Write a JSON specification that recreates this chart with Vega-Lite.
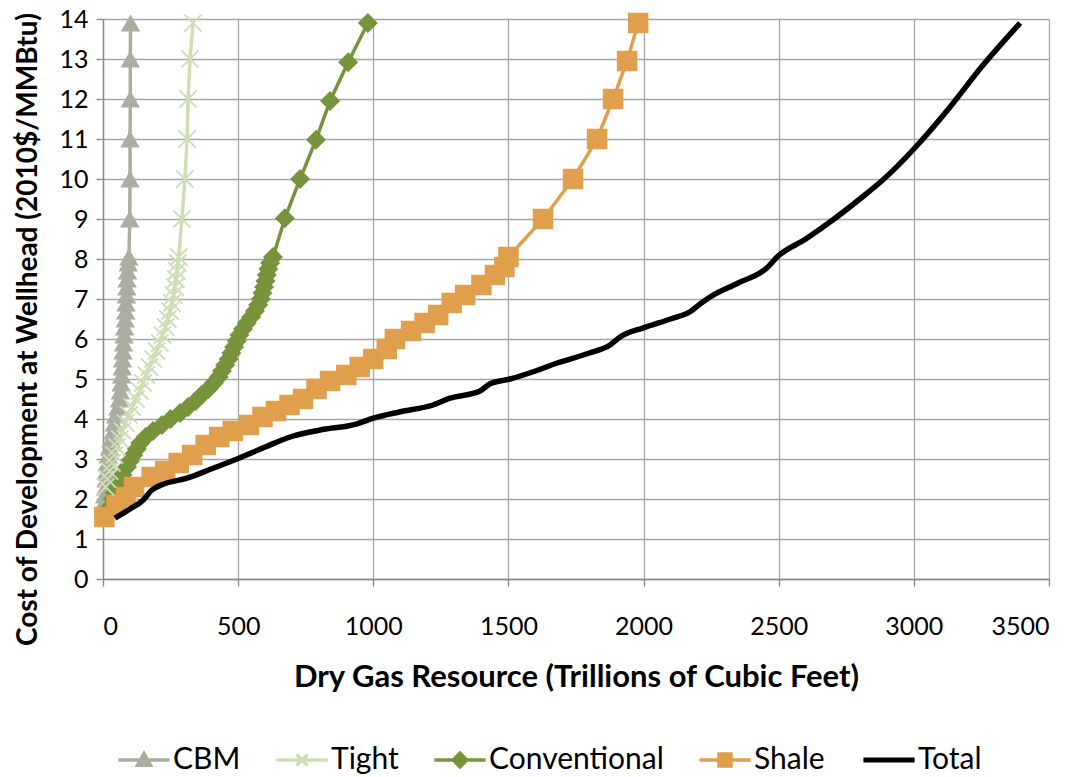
{
  "$schema": "https://vega.github.io/schema/vega-lite/v6.json",
  "width": 946,
  "height": 560,
  "autosize": {"type": "none"},
  "padding": {"left": 103, "top": 19, "right": 39, "bottom": 198},
  "background": "white",
  "config": {
    "font": "Lato",
    "view": {"stroke": null},
    "axis": {
      "labelFont": "Lato", "labelFontSize": 25, "labelColor": "#000000",
      "titleFont": "Lato", "titleFontWeight": "bold", "titleColor": "#000000",
      "gridColor": "#A6A6A6", "gridWidth": 1.3, "domainColor": "#888888", "domainWidth": 1.3,
      "tickColor": "#888888", "tickWidth": 1.3, "tickSize": 7
    }
  },
  "data": {"values": [
    {"s":"CBM","x":3,"y":1.9},{"s":"CBM","x":6,"y":2.1},{"s":"CBM","x":9,"y":2.3},{"s":"CBM","x":11,"y":2.5},{"s":"CBM","x":13,"y":2.7},{"s":"CBM","x":15,"y":2.9},{"s":"CBM","x":19,"y":3.1},{"s":"CBM","x":24,"y":3.3},{"s":"CBM","x":29,"y":3.5},{"s":"CBM","x":37,"y":3.7},{"s":"CBM","x":42,"y":3.9},{"s":"CBM","x":47,"y":4.1},{"s":"CBM","x":55,"y":4.3},{"s":"CBM","x":61,"y":4.5},{"s":"CBM","x":64,"y":4.7},{"s":"CBM","x":67,"y":4.9},{"s":"CBM","x":69,"y":5.1},{"s":"CBM","x":71,"y":5.3},{"s":"CBM","x":72,"y":5.5},{"s":"CBM","x":74,"y":5.7},{"s":"CBM","x":76,"y":5.9},{"s":"CBM","x":78,"y":6.1},{"s":"CBM","x":80,"y":6.3},{"s":"CBM","x":82,"y":6.5},{"s":"CBM","x":84,"y":6.7},{"s":"CBM","x":85,"y":6.9},{"s":"CBM","x":87,"y":7.1},{"s":"CBM","x":88,"y":7.3},{"s":"CBM","x":89,"y":7.5},{"s":"CBM","x":91,"y":7.7},{"s":"CBM","x":93,"y":7.9},{"s":"CBM","x":96,"y":8.05},{"s":"CBM","x":99,"y":9},{"s":"CBM","x":100,"y":10},{"s":"CBM","x":100,"y":11},{"s":"CBM","x":101,"y":12},{"s":"CBM","x":101,"y":13},{"s":"CBM","x":102,"y":13.9},
    {"s":"Tight","x":10,"y":2.3},{"s":"Tight","x":16,"y":2.5},{"s":"Tight","x":24,"y":2.7},{"s":"Tight","x":33,"y":2.9},{"s":"Tight","x":42,"y":3.1},{"s":"Tight","x":52,"y":3.3},{"s":"Tight","x":62,"y":3.5},{"s":"Tight","x":72,"y":3.7},{"s":"Tight","x":83,"y":3.9},{"s":"Tight","x":96,"y":4.1},{"s":"Tight","x":108,"y":4.3},{"s":"Tight","x":122,"y":4.5},{"s":"Tight","x":136,"y":4.7},{"s":"Tight","x":148,"y":4.9},{"s":"Tight","x":160,"y":5.1},{"s":"Tight","x":172,"y":5.3},{"s":"Tight","x":186,"y":5.5},{"s":"Tight","x":198,"y":5.7},{"s":"Tight","x":210,"y":5.9},{"s":"Tight","x":220,"y":6.1},{"s":"Tight","x":231,"y":6.3},{"s":"Tight","x":240,"y":6.5},{"s":"Tight","x":248,"y":6.7},{"s":"Tight","x":255,"y":6.9},{"s":"Tight","x":261,"y":7.1},{"s":"Tight","x":266,"y":7.3},{"s":"Tight","x":270,"y":7.5},{"s":"Tight","x":274,"y":7.7},{"s":"Tight","x":277,"y":7.9},{"s":"Tight","x":280,"y":8.05},{"s":"Tight","x":292,"y":9},{"s":"Tight","x":303,"y":10},{"s":"Tight","x":311,"y":11},{"s":"Tight","x":315,"y":12},{"s":"Tight","x":322,"y":13},{"s":"Tight","x":333,"y":13.9},
    {"s":"Conventional","x":15,"y":1.6},{"s":"Conventional","x":26,"y":1.8},{"s":"Conventional","x":36,"y":2.0},{"s":"Conventional","x":44,"y":2.15},{"s":"Conventional","x":52,"y":2.3},{"s":"Conventional","x":62,"y":2.45},{"s":"Conventional","x":72,"y":2.6},{"s":"Conventional","x":89,"y":2.8},{"s":"Conventional","x":100,"y":2.95},{"s":"Conventional","x":112,"y":3.1},{"s":"Conventional","x":125,"y":3.25},{"s":"Conventional","x":138,"y":3.4},{"s":"Conventional","x":158,"y":3.55},{"s":"Conventional","x":185,"y":3.7},{"s":"Conventional","x":218,"y":3.85},{"s":"Conventional","x":250,"y":4.0},{"s":"Conventional","x":285,"y":4.15},{"s":"Conventional","x":315,"y":4.3},{"s":"Conventional","x":343,"y":4.45},{"s":"Conventional","x":365,"y":4.6},{"s":"Conventional","x":390,"y":4.75},{"s":"Conventional","x":410,"y":4.9},{"s":"Conventional","x":428,"y":5.05},{"s":"Conventional","x":440,"y":5.2},{"s":"Conventional","x":452,"y":5.35},{"s":"Conventional","x":465,"y":5.5},{"s":"Conventional","x":475,"y":5.65},{"s":"Conventional","x":485,"y":5.8},{"s":"Conventional","x":495,"y":5.95},{"s":"Conventional","x":505,"y":6.1},{"s":"Conventional","x":518,"y":6.25},{"s":"Conventional","x":532,"y":6.4},{"s":"Conventional","x":548,"y":6.55},{"s":"Conventional","x":562,"y":6.7},{"s":"Conventional","x":574,"y":6.85},{"s":"Conventional","x":584,"y":7.0},{"s":"Conventional","x":590,"y":7.15},{"s":"Conventional","x":596,"y":7.3},{"s":"Conventional","x":601,"y":7.45},{"s":"Conventional","x":606,"y":7.6},{"s":"Conventional","x":612,"y":7.75},{"s":"Conventional","x":618,"y":7.9},{"s":"Conventional","x":629,"y":8.05},{"s":"Conventional","x":673,"y":9.02},{"s":"Conventional","x":729,"y":10.0},{"s":"Conventional","x":788,"y":10.98},{"s":"Conventional","x":840,"y":11.95},{"s":"Conventional","x":907,"y":12.92},{"s":"Conventional","x":980,"y":13.9},
    {"s":"Shale","x":5,"y":1.55},{"s":"Shale","x":50,"y":1.85},{"s":"Shale","x":85,"y":2.05},{"s":"Shale","x":115,"y":2.3},{"s":"Shale","x":180,"y":2.55},{"s":"Shale","x":230,"y":2.7},{"s":"Shale","x":280,"y":2.9},{"s":"Shale","x":330,"y":3.1},{"s":"Shale","x":380,"y":3.35},{"s":"Shale","x":430,"y":3.55},{"s":"Shale","x":480,"y":3.7},{"s":"Shale","x":540,"y":3.85},{"s":"Shale","x":590,"y":4.05},{"s":"Shale","x":640,"y":4.2},{"s":"Shale","x":690,"y":4.35},{"s":"Shale","x":740,"y":4.5},{"s":"Shale","x":790,"y":4.75},{"s":"Shale","x":840,"y":4.95},{"s":"Shale","x":900,"y":5.1},{"s":"Shale","x":950,"y":5.3},{"s":"Shale","x":1000,"y":5.5},{"s":"Shale","x":1050,"y":5.75},{"s":"Shale","x":1080,"y":6.0},{"s":"Shale","x":1140,"y":6.2},{"s":"Shale","x":1190,"y":6.4},{"s":"Shale","x":1240,"y":6.6},{"s":"Shale","x":1290,"y":6.9},{"s":"Shale","x":1340,"y":7.1},{"s":"Shale","x":1400,"y":7.35},{"s":"Shale","x":1450,"y":7.6},{"s":"Shale","x":1485,"y":7.8},{"s":"Shale","x":1500,"y":8.05},{"s":"Shale","x":1628,"y":9.0},{"s":"Shale","x":1739,"y":10.0},{"s":"Shale","x":1828,"y":11.0},{"s":"Shale","x":1887,"y":12.0},{"s":"Shale","x":1939,"y":12.95},{"s":"Shale","x":1980,"y":13.9},
    {"s":"Total","x":44,"y":1.52},{"s":"Total","x":100,"y":1.75},{"s":"Total","x":148,"y":1.97},{"s":"Total","x":180,"y":2.22},{"s":"Total","x":220,"y":2.36},{"s":"Total","x":311,"y":2.52},{"s":"Total","x":400,"y":2.75},{"s":"Total","x":496,"y":3.0},{"s":"Total","x":600,"y":3.3},{"s":"Total","x":692,"y":3.55},{"s":"Total","x":800,"y":3.72},{"s":"Total","x":940,"y":3.88},{"s":"Total","x":1000,"y":4.02},{"s":"Total","x":1100,"y":4.18},{"s":"Total","x":1221,"y":4.35},{"s":"Total","x":1284,"y":4.52},{"s":"Total","x":1395,"y":4.7},{"s":"Total","x":1432,"y":4.88},{"s":"Total","x":1506,"y":5.0},{"s":"Total","x":1600,"y":5.2},{"s":"Total","x":1680,"y":5.4},{"s":"Total","x":1800,"y":5.65},{"s":"Total","x":1876,"y":5.85},{"s":"Total","x":1913,"y":6.05},{"s":"Total","x":2000,"y":6.28},{"s":"Total","x":2100,"y":6.5},{"s":"Total","x":2172,"y":6.68},{"s":"Total","x":2210,"y":6.88},{"s":"Total","x":2246,"y":7.05},{"s":"Total","x":2350,"y":7.4},{"s":"Total","x":2457,"y":7.78},{"s":"Total","x":2494,"y":8.05},{"s":"Total","x":2600,"y":8.5},{"s":"Total","x":2701,"y":8.98},{"s":"Total","x":2800,"y":9.5},{"s":"Total","x":2886,"y":9.98},{"s":"Total","x":3000,"y":10.75},{"s":"Total","x":3134,"y":11.8},{"s":"Total","x":3250,"y":12.8},{"s":"Total","x":3393,"y":13.9}
  ]},
  "encoding": {
    "x": {"field": "x", "type": "quantitative",
      "scale": {"domain": [0, 3500], "nice": false, "zero": false},
      "axis": {"values": [0,500,1000,1500,2000,2500,3000,3500], "format": "d", "title": "Dry Gas Resource (Trillions of Cubic Feet)", "titleFontSize": 31, "labelPadding": 28, "titleX": 473, "titleY": 98, "titleBaseline": "middle", "titleAnchor": null}},
    "y": {"field": "y", "type": "quantitative",
      "scale": {"domain": [0, 14], "nice": false, "zero": false},
      "axis": {"values": [0,1,2,3,4,5,6,7,8,9,10,11,12,13,14], "title": "Cost of Development at Wellhead (2010$/MMBtu)", "titleFontSize": 28, "labelPadding": 8, "titleX": -75, "titleY": 310, "titleBaseline": "middle", "titleAngle": -90}},
    "color": {"field": "s", "type": "nominal",
      "scale": {"domain": ["CBM","Tight","Conventional","Shale","Total"], "range": ["#ABAE9F","#CFDDB5","#77933C","#E09F4D","#000000"]},
      "legend": {
        "orient": "none", "direction": "horizontal", "legendX": 26, "legendY": 726, "title": null,
        "labelFont": "Lato", "labelFontSize": 30, "labelColor": "#000000", "labelLimit": 400,
        "symbolSize": 256, "labelOffset": 14, "columnPadding": 28,
        "encode": {"symbols": {"update": {
          "shape": {"signal": "datum.value==='CBM' ? 'M-3.2,0L3.2,0M0,-0.8L0.8,0.65L-0.8,0.65Z' : datum.value==='Tight' ? 'M-3.2,0L3.2,0M-0.7,-0.7L0.7,0.7M-0.7,0.7L0.7,-0.7' : datum.value==='Conventional' ? 'M-3.2,0L3.2,0M0,-0.85L0.85,0L0,0.85L-0.85,0Z' : datum.value==='Shale' ? 'M-3.2,0L3.2,0M-0.75,-0.75L0.75,-0.75L0.75,0.75L-0.75,0.75Z' : 'M-3.2,0L3.2,0'"},
          "fill": {"signal": "datum.value==='Tight'||datum.value==='Total' ? 'transparent' : scale('color', datum.value)"},
          "stroke": {"signal": "scale('color', datum.value)"},
          "strokeWidth": {"signal": "datum.value==='Total' ? 5 : 3.5"},
          "opacity": {"value": 1}
        }}}
      }}
  },
  "layer": [
    {"transform": [{"filter": "datum.s !== 'Total'"}],
     "mark": {"type": "line", "strokeWidth": 3.5, "interpolate": "linear"},
     "encoding": {"order": {"field": "y", "type": "quantitative"}}},
    {"transform": [{"filter": "datum.s !== 'Total' && datum.s !== 'Tight'"}],
     "mark": {"type": "point", "filled": true, "opacity": 1},
     "encoding": {
       "shape": {"field": "s", "type": "nominal", "scale": {"domain": ["CBM","Conventional","Shale"], "range": ["triangle-up","diamond","square"]}, "legend": null},
       "size": {"field": "s", "type": "nominal", "scale": {"domain": ["CBM","Conventional","Shale"], "range": [380, 420, 320]}, "legend": null}
     }},
    {"transform": [{"filter": "datum.s === 'Tight'"}],
     "mark": {"type": "point", "filled": false, "opacity": 1, "strokeWidth": 2, "shape": "M-1,-1L1,1M-1,1L1,-1", "size": 300}},
    {"transform": [{"filter": "datum.s === 'Total'"}],
     "mark": {"type": "line", "strokeWidth": 5.5, "interpolate": "monotone"},
     "encoding": {"order": {"field": "y", "type": "quantitative"}}}
  ]
}
